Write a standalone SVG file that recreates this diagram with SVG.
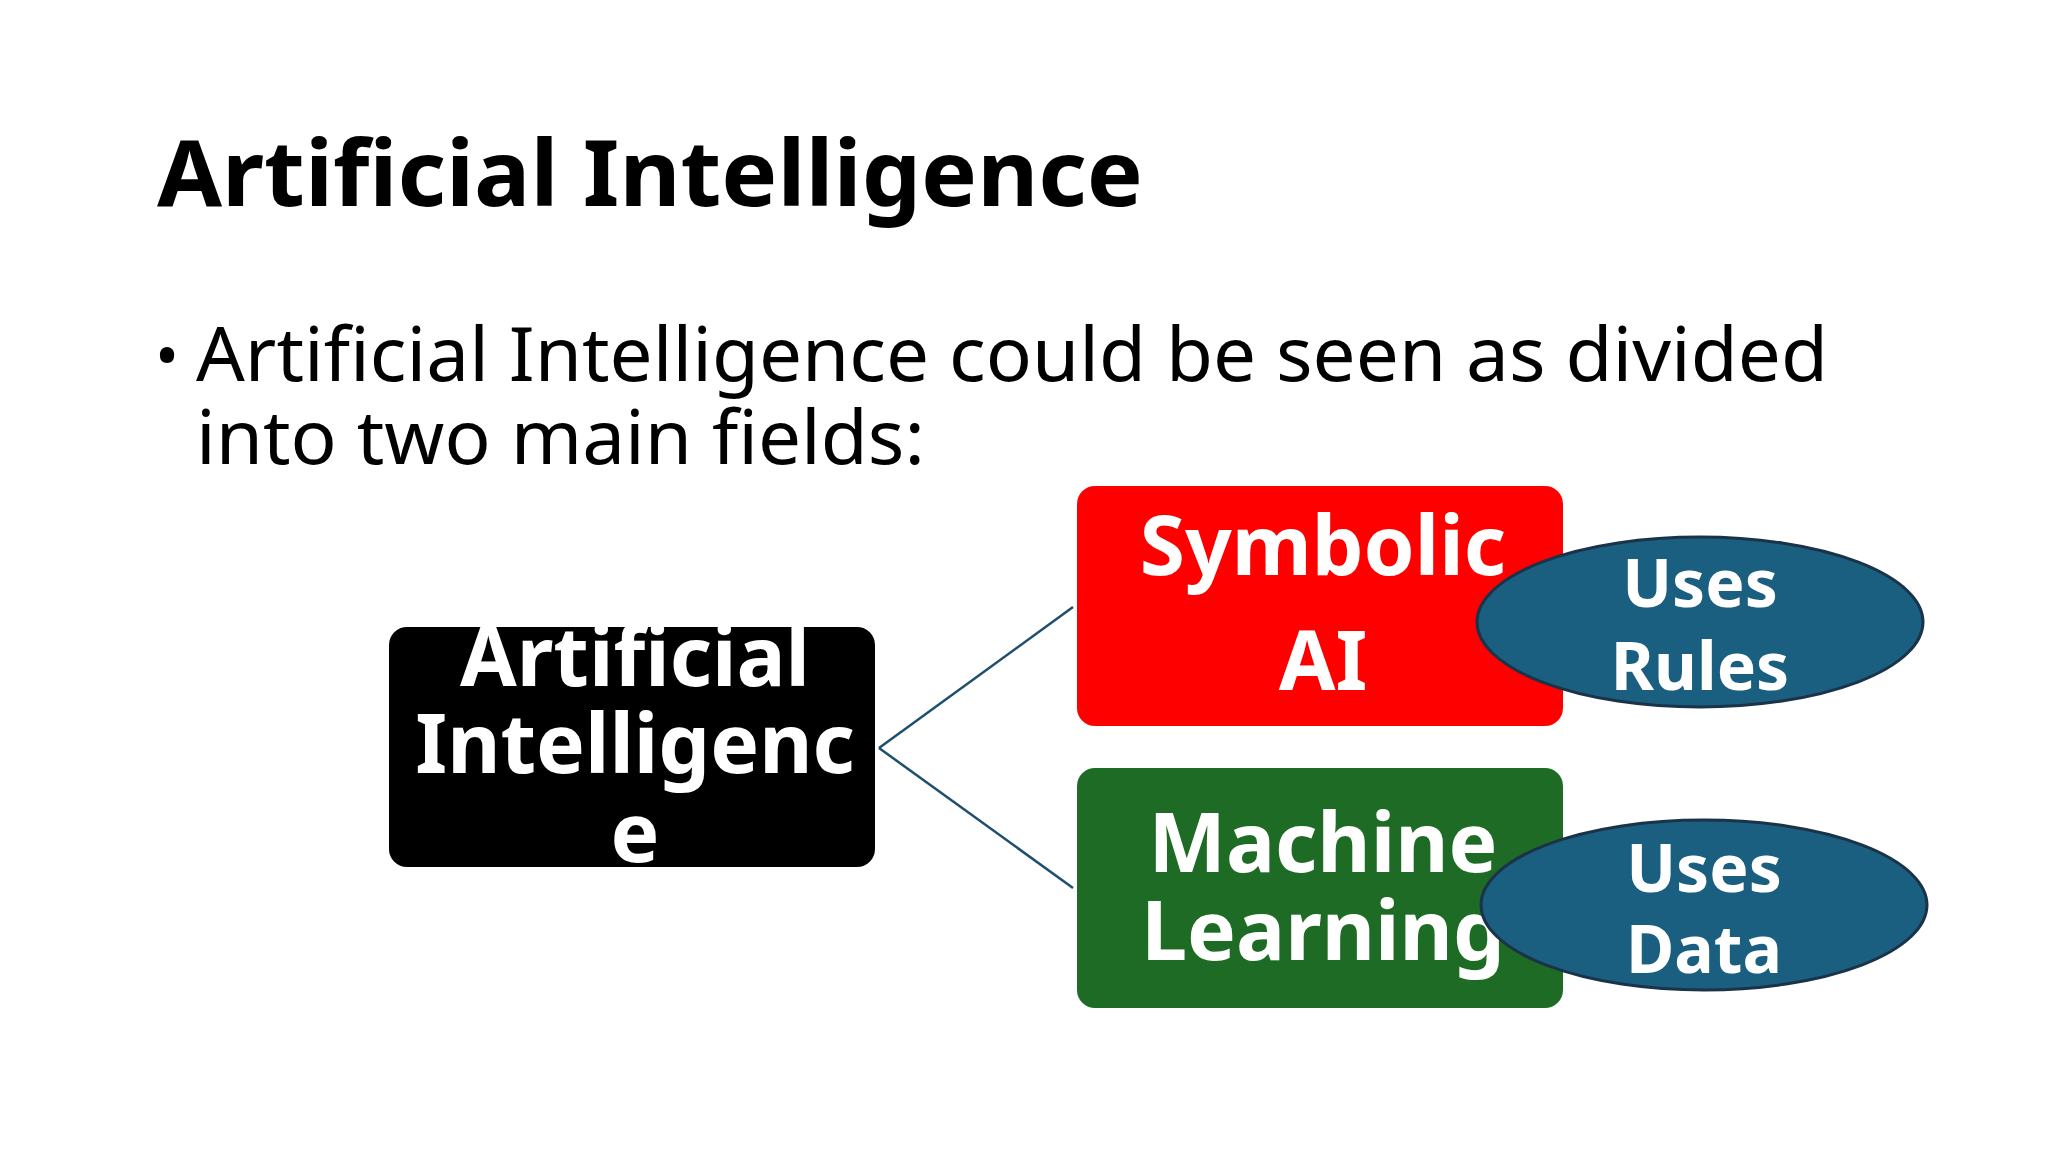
<svg xmlns="http://www.w3.org/2000/svg" width="2048" height="1152" viewBox="0 0 2048 1152">
<style>
text{font-family:"Noto Sans","Open Sans",sans-serif}
.b{font-weight:bold;fill:#fff;text-anchor:middle;font-size:82px}
.e{font-weight:bold;fill:#fff;text-anchor:middle;font-size:66px}
.ell{fill:#1b5f80;stroke:#1a3348;stroke-width:3}
</style>
<rect width="2048" height="1152" fill="#fff"/>
<text x="157" y="206" font-size="92" font-weight="bold" fill="#000" textLength="986" lengthAdjust="spacingAndGlyphs">Artificial Intelligence</text>
<text x="155" y="378" font-size="64" fill="#000">•</text>
<text x="196" y="381" font-size="75" fill="#000" textLength="1632" lengthAdjust="spacingAndGlyphs">Artificial Intelligence could be seen as divided</text>
<text x="196" y="464" font-size="75" fill="#000" textLength="729" lengthAdjust="spacingAndGlyphs">into two main fields:</text>
<g id="connectors" stroke="#1f4e6e" stroke-width="2.5" fill="none">
<line x1="879" y1="748" x2="1073" y2="607"/>
<line x1="879" y1="748" x2="1073" y2="888"/>
</g>
<g id="ai">
<rect x="389" y="627" width="486" height="240" rx="18" fill="#000"/>
<text class="b" x="635" y="686">Artificial</text>
<text class="b" x="635" y="773">Intelligenc</text>
<text class="b" x="635" y="862">e</text>
</g>
<g id="symbolic">
<rect x="1077" y="486" width="486" height="240" rx="18" fill="#ff0000"/>
<text class="b" x="1323" y="575">Symbolic</text>
<text class="b" x="1323" y="690">AI</text>
</g>
<g id="ml">
<rect x="1077" y="768" width="486" height="240" rx="18" fill="#1e6b25"/>
<text class="b" x="1323" y="872">Machine</text>
<text class="b" x="1323" y="960">Learning</text>
</g>
<g id="rules">
<ellipse class="ell" cx="1700" cy="622" rx="223" ry="85"/>
<text class="e" x="1700" y="607">Uses</text>
<text class="e" x="1700" y="690">Rules</text>
</g>
<g id="data">
<ellipse class="ell" cx="1704" cy="905" rx="223" ry="85"/>
<text class="e" x="1704" y="892">Uses</text>
<text class="e" x="1704" y="973">Data</text>
</g>
</svg>
